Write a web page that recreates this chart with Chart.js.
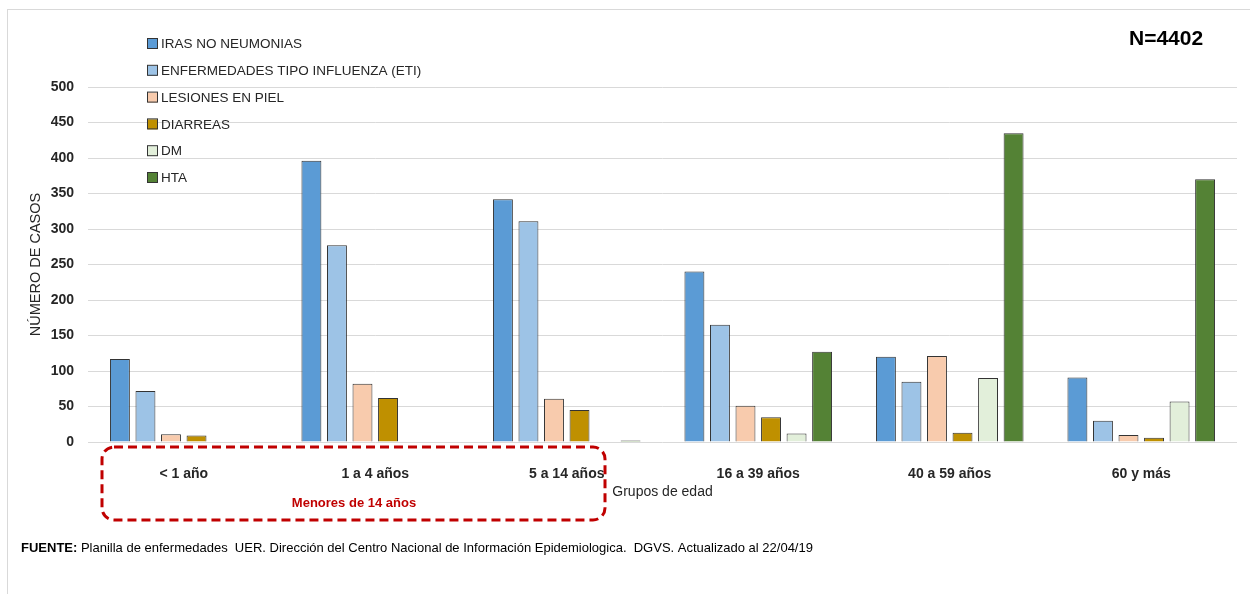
<!DOCTYPE html>
<html><head><meta charset="utf-8">
<script src="https://cdn.jsdelivr.net/npm/chart.js@4.4.1/dist/chart.umd.min.js"></script>
<style>html,body{margin:0;padding:0;background:#fff;} canvas{display:block;}</style>
</head><body>
<canvas id="c" width="1250" height="594"></canvas>
<script>
const categories = ['< 1 año', '1 a 4 años', '5 a 14 años', '16 a 39 años', '40 a 59 años', '60 y más'];
const seriesNames = ['IRAS NO NEUMONIAS', 'ENFERMEDADES TIPO INFLUENZA (ETI)', 'LESIONES EN PIEL', 'DIARREAS', 'DM', 'HTA'];
const iras     = [117, 396, 342, 240, 120, 91];
const eti      = [72, 277, 311, 165, 85, 30];
const lesiones = [11, 82, 61, 51, 121, 10];
const diarreas = [9, 62, 45, 35, 13, 6];
const dm       = [null, null, null, 12, 90, 57];
const hta      = [null, null, 2, 127, 435, 370];
const yTicks = [0, 50, 100, 150, 200, 250, 300, 350, 400, 450, 500];
const colors = ['#5B9BD5', '#9DC3E6', '#F8CBAD', '#BF9000', '#E2EFDA', '#548235'];
const FONT = "'Liberation Sans', Arial, sans-serif";

const seriesData = [iras, eti, lesiones, diarreas, dm, hta];
const datasets = seriesData.map((d, i) => ({
  label: seriesNames[i],
  data: d,
  backgroundColor: colors[i],
  borderColor: '#333333',
  borderWidth: 1,
  categoryPercentage: 0.8,
  barPercentage: 0.78
}));

const decor = {
  id: 'decor',
  beforeDraw(chart) {
    const ctx = chart.ctx;
    ctx.save();
    ctx.fillStyle = '#fff';
    ctx.fillRect(0, 0, chart.width, chart.height);
    ctx.strokeStyle = '#d9d9d9';
    ctx.lineWidth = 1;
    ctx.strokeRect(7.5, 9.5, 1260, 600);
    ctx.restore();
  },
  afterDraw(chart) {
    const ctx = chart.ctx;
    ctx.save();
    // legend
    ctx.textBaseline = 'middle';
    ctx.textAlign = 'left';
    ctx.font = '13.5px ' + FONT;
    chart.data.datasets.forEach((ds, i) => {
      const y = 44 + i * 26.8;
      ctx.fillStyle = ds.backgroundColor;
      ctx.fillRect(147.5, y - 5, 10, 10);
      ctx.strokeStyle = '#333333';
      ctx.lineWidth = 1;
      ctx.strokeRect(147.5, y - 5.5, 10, 10);
      ctx.fillStyle = '#262626';
      ctx.fillText(ds.label, 161, y + 0.5);
    });
    // N label
    ctx.font = 'bold 21px ' + FONT;
    ctx.fillStyle = '#000';
    ctx.fillText('N=4402', 1129, 39);
    // red dashed rounded box
    ctx.strokeStyle = '#C00000';
    ctx.lineWidth = 3;
    ctx.setLineDash([9, 5]);
    ctx.beginPath();
    ctx.roundRect(102, 447, 503, 73, 12);
    ctx.stroke();
    ctx.setLineDash([]);
    ctx.font = 'bold 13px ' + FONT;
    ctx.fillStyle = '#C00000';
    ctx.textAlign = 'center';
    ctx.fillText('Menores de 14 años', 354, 503);
    // footer
    ctx.textAlign = 'left';
    ctx.fillStyle = '#000';
    ctx.font = 'bold 13px ' + FONT;
    const f1 = 'FUENTE:';
    ctx.fillText(f1, 21, 548);
    const w1 = ctx.measureText(f1 + ' ').width;
    ctx.font = '13px ' + FONT;
    ctx.fillText('Planilla de enfermedades  UER. Dirección del Centro Nacional de Información Epidemiologica.  DGVS. Actualizado al 22/04/19', 21 + w1, 548);
    ctx.restore();
  }
};

new Chart(document.getElementById('c'), {
  type: 'bar',
  data: { labels: categories, datasets },
  options: {
    responsive: false,
    animation: false,
    layout: { padding: { left: 20, right: 13, top: 87, bottom: 89 } },
    plugins: { legend: { display: false }, tooltip: { enabled: false } },
    scales: {
      x: {
        grid: { display: false },
        border: { display: false },
        ticks: { font: { family: FONT, size: 14, weight: 'bold' }, color: '#262626', padding: 16, maxRotation: 0 },
        title: { display: true, text: 'Grupos de edad', font: { family: FONT, size: 14 }, color: '#262626', padding: { top: 4, bottom: 4 } },
        afterFit(scale) { scale.height = 63; }
      },
      y: {
        min: 0, max: 500,
        afterBuildTicks(scale) { scale.ticks = yTicks.map(v => ({ value: v })); },
        grid: { color: '#d9d9d9', drawTicks: false, lineWidth: 1 },
        border: { display: false },
        ticks: { font: { family: FONT, size: 14, weight: 'bold' }, color: '#262626', padding: 14 },
        title: { display: true, text: 'NÚMERO DE CASOS', font: { family: FONT, size: 14.5 }, color: '#262626', padding: { top: 7, bottom: 4 } },
        afterFit(scale) { scale.width = 68; }
      }
    }
  },
  plugins: [decor]
});
</script>
</body></html>
